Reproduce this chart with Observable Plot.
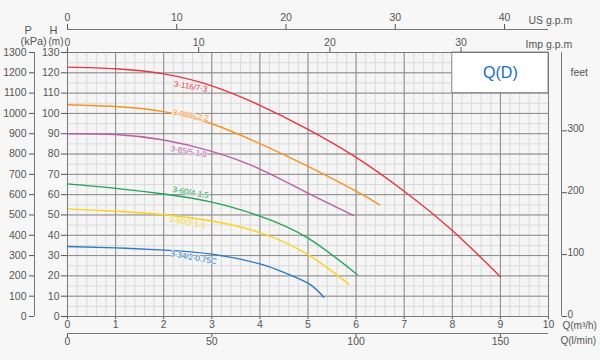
<!DOCTYPE html>
<html><head><meta charset="utf-8">
<script src="https://cdn.jsdelivr.net/npm/d3@7"></script>
<script src="https://cdn.jsdelivr.net/npm/@observablehq/plot@0.6"></script>
<style>
html,body{margin:0;padding:0;background:#f7f7f7;}
#chart{width:600px;height:360px;}
</style></head><body><div id="chart"></div>
<script>
// ---- data ----
const seriesNames = ["3-116/7-3", "3-98/6-2.2", "3-85/5-1.8", "3-60/4-1.5", "3-50/3-1.1", "3-34/2-0.75C"];
const seriesColors = ["#e8363f", "#f7931e", "#bb5fa5", "#27a257", "#fcd21c", "#2a78c6"];

const qRed = [0, 1, 2, 3, 4, 5, 6, 7, 8, 9];
const hRed = [122.8, 122.0, 119.5, 113.6, 104.0, 92.2, 78.4, 61.7, 42.3, 19.6];
const qOrange = [0, 1, 2, 3, 4, 5, 6, 6.49];
const hOrange = [104.3, 103.4, 100.9, 94.9, 85.1, 73.9, 61.7, 55.0];
const qPurple = [0, 1, 2, 3, 4, 5, 5.95];
const hPurple = [90.0, 89.6, 86.9, 81.3, 72.6, 60.7, 49.7];
const qGreen = [0, 1, 2, 3, 4, 5, 6.02];
const hGreen = [65.3, 63.1, 60.3, 56.3, 49.4, 38.6, 20.7];
const qYellow = [0, 1, 2, 3, 4, 5, 5.85];
const hYellow = [53.0, 51.8, 50.1, 47.0, 41.3, 30.5, 15.8];
const qBlue = [0, 1, 2, 3, 4, 4.5, 5, 5.33];
const hBlue = [34.5, 33.8, 32.7, 30.7, 25.9, 21.7, 16.4, 9.5];

// curve label anchor points (Q, H)
const labelQ = [2.56, 2.56, 2.52, 2.56, 2.49, 2.62];
const labelH = [113.2, 99.0, 81.2, 61.1, 46.3, 29.0];

// axis ticks
const qTicks = [0, 1, 2, 3, 4, 5, 6, 7, 8, 9, 10];
const hTicks = [0, 10, 20, 30, 40, 50, 60, 70, 80, 90, 100, 110, 120, 130];
const kpaTicks = [0, 100, 200, 300, 400, 500, 600, 700, 800, 900, 1000, 1100, 1200, 1300];
const feetTicks = [0, 100, 200, 300];
const usGpmTicks = [0, 10, 20, 30, 40];
const impGpmTicks = [0, 10, 20, 30];
const lpmTicks = [0, 50, 100, 150];

// unit conversions to m3/h and m
const US = 0.2271247, IMP = 0.2727654, LPM = 0.06, FT = 0.3048, KPA = 0.1;

// ---- build tables ----
const qs = [qRed, qOrange, qPurple, qGreen, qYellow, qBlue];
const hs = [hRed, hOrange, hPurple, hGreen, hYellow, hBlue];
const rows = seriesNames.flatMap((name, s) => qs[s].map((q, i) => ({name, q, h: hs[s][i]})));
const labels = seriesNames.map((name, i) => ({name, q: labelQ[i], h: labelH[i]}));
const feetRows = feetTicks.map(f => ({m: f * FT, label: String(f)}));
const minorQ = d3.range(0, 10.001, 0.2);
const minorH = d3.range(0, 130.001, 5);
const box = [{x1: 8, x2: 10, y1: 110, y2: 130}];

const font = "'Liberation Sans', Arial, Helvetica, sans-serif";
const axisColor = "#555";
const fmt = k => d => String(Math.round(d / k));

const plot = Plot.plot({
  width: 600, height: 360,
  marginLeft: 67, marginRight: 52, marginTop: 52, marginBottom: 44,
  x: {domain: [0, 10], label: null},
  y: {domain: [0, 130], label: null},
  color: {domain: seriesNames, range: seriesColors},
  style: {fontFamily: font, fontSize: "10.5px", color: axisColor, background: "transparent", overflow: "visible"},
  marks: [
    Plot.frame({fill: "#f5f5f5"}),
    Plot.ruleX(minorQ, {stroke: "#dadada", strokeWidth: 1}),
    Plot.ruleY(minorH, {stroke: "#dadada", strokeWidth: 1}),
    Plot.ruleX(qTicks, {stroke: "#8a8a8a", strokeWidth: 1}),
    Plot.ruleY(hTicks, {stroke: "#8a8a8a", strokeWidth: 1}),
    Plot.rect(box, {x1: "x1", x2: "x2", y1: "y1", y2: "y2", fill: "white", stroke: "#8a8a8a"}),
    Plot.text(["Q(D)"], {x: 9, y: 120, fill: "#1a6cc0", fontSize: 16}),
    Plot.line(rows, {x: "q", y: "h", z: "name", stroke: "name", curve: "natural", strokeWidth: 1.4}),
    Plot.text(labels, {x: "q", y: "h", text: "name", fill: "name", rotate: 10, fontSize: 8,
      stroke: "#f5f5f5", strokeWidth: 1.2, paintOrder: "stroke"}),

    // H axis (m)
    Plot.axisY({ticks: hTicks, anchor: "left", tickSize: 6, tickPadding: 2, label: null, tickFormat: fmt(1)}),
    // P axis (kPa)
    Plot.axisY({ticks: kpaTicks.map(v => v * KPA), anchor: "left", dx: -33, tickSize: 5, tickPadding: 3,
      tickFormat: fmt(KPA), label: null}),
    Plot.ruleX([0], {dx: -33, stroke: "#777"}),
    // feet axis (ticks, then labels nudged up slightly)
    Plot.axisY({ticks: feetTicks.map(v => v * FT), anchor: "right", dx: 13, tickSize: 5,
      tickFormat: () => "", label: null}),
    Plot.text(feetRows, {y: "m", text: "label", frameAnchor: "right", dx: 19, dy: -2, textAnchor: "start", fontSize: 10, fill: axisColor}),
    Plot.ruleX([10], {dx: 13, stroke: "#777"}),
    // Q m3/h
    Plot.axisX({ticks: qTicks, anchor: "bottom", tickSize: 3, tickPadding: 1, label: null, tickFormat: fmt(1)}),
    // Q l/min
    Plot.axisX({ticks: lpmTicks.map(v => v * LPM), anchor: "bottom", dy: 17, tickSize: 4, tickPadding: 0,
      tickFormat: fmt(LPM), label: null}),
    Plot.ruleY([0], {dy: 17, stroke: "#777"}),
    // Imp gpm
    Plot.axisX({ticks: impGpmTicks.map(v => v * IMP), anchor: "top", tickSize: 6, tickPadding: 1,
      tickFormat: fmt(IMP), label: null}),
    // US gpm
    Plot.axisX({ticks: usGpmTicks.map(v => v * US), anchor: "top", dy: -23, tickSize: 6, tickPadding: 3,
      tickFormat: fmt(US), label: null}),
    Plot.ruleY([130], {dy: -23, stroke: "#777"}),
    Plot.frame({stroke: "#7a7a7a"}),

    // axis titles
    Plot.text(["P"], {frameAnchor: "top-left", dx: -43, dy: -26, fontSize: 11}),
    Plot.text(["(kPa)"], {frameAnchor: "top-left", dx: -47, dy: -15, fontSize: 11}),
    Plot.text(["H"], {frameAnchor: "top-left", dx: -18, dy: -26, fontSize: 11}),
    Plot.text(["(m)"], {frameAnchor: "top-left", dx: -19, dy: -15, fontSize: 10}),
    Plot.text(["US g.p.m"], {frameAnchor: "top-right", dx: -20, dy: -36, textAnchor: "start", fontSize: 10.5}),
    Plot.text(["Imp g.p.m"], {frameAnchor: "top-right", dx: -23, dy: -12, textAnchor: "start", fontSize: 10.5}),
    Plot.text(["feet"], {frameAnchor: "top-right", dx: 22, dy: 16, textAnchor: "start", fontSize: 10.5}),
    Plot.text(["Q(m³/h)"], {frameAnchor: "bottom-right", dx: 14, dy: 12, textAnchor: "start", fontSize: 10}),
    Plot.text(["Q(l/min)"], {frameAnchor: "bottom-right", dx: 12, dy: 27, textAnchor: "start", fontSize: 10})
  ]
});
document.getElementById("chart").appendChild(plot);
</script>
</body></html>
